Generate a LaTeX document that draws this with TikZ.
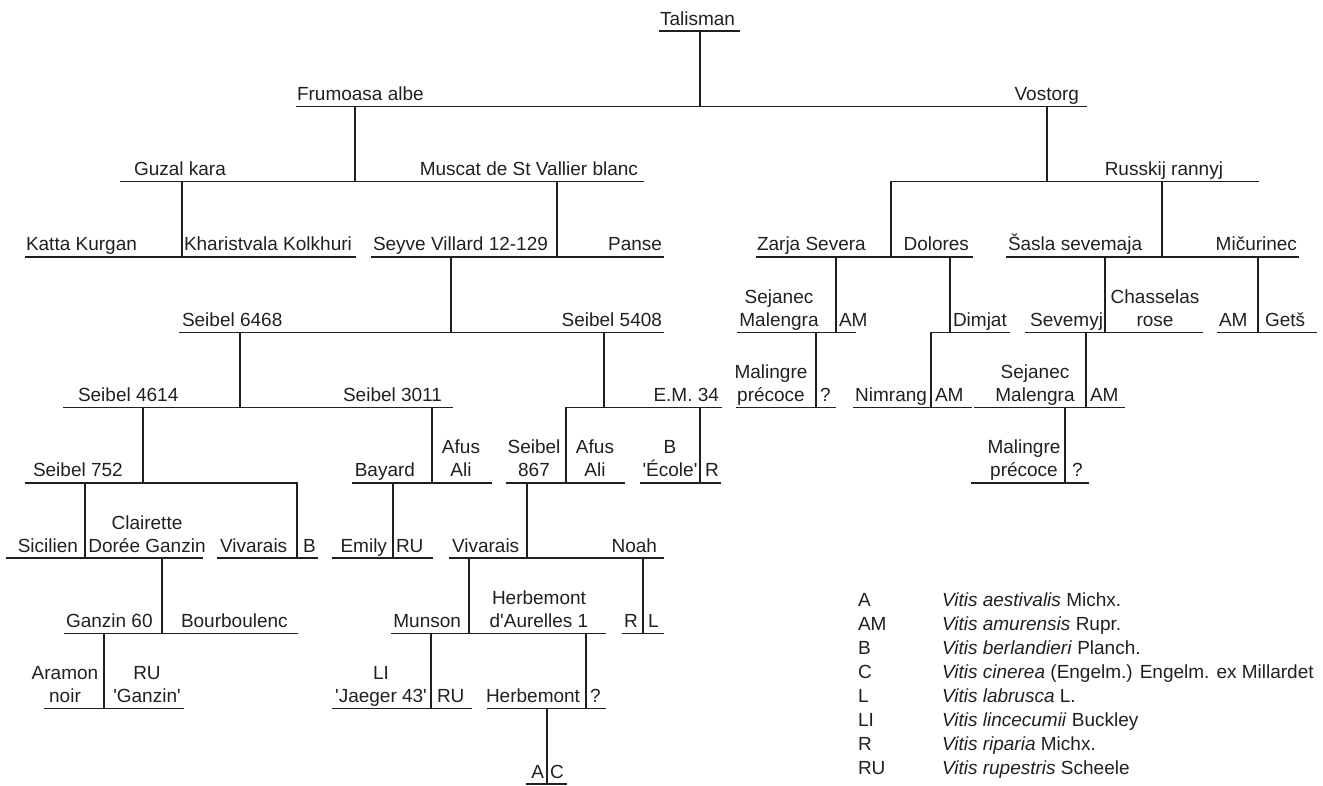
\documentclass[tikz,border=0pt]{standalone}
\usepackage{fontspec}
\setmainfont{Liberation Sans}
\definecolor{ink}{HTML}{231F20}
\newcommand\pedfont{\fontsize{19}{23}\selectfont}
\newcommand\twoline[2]{\begin{tabular}[b]{@{}c@{}}#1\\#2\end{tabular}}
\newcommand\sq{\textquotesingle}
\begin{document}
\begin{tikzpicture}[x=1pt,y=-1pt,
  every node/.style={font=\pedfont, text=ink, inner sep=0pt, outer sep=0pt},
  wire/.style={draw=ink, line width=1.4pt, line cap=rect},
  bw/.style={anchor=base west},
  be/.style={anchor=base east},
  bc/.style={anchor=base}]
\useasboundingbox (0,0) rectangle (1323,785);

% generation levels (y of the underlines): 31, 106.3, 181.6, ... step 75.3
% ---- horizontal underlines ----
\draw[wire]
 (660,31)--(739,31)
 (297,106.3)--(1086,106.3)
 (121,181.6)--(643,181.6)
 (891,181.6)--(1258,181.6)
 (26,256.9)--(355,256.9)
 (372,256.9)--(663,256.9)
 (757,256.9)--(972,256.9)
 (1007,256.9)--(1298,256.9)
 (180,332.2)--(663,332.2)
 (738,332.2)--(855,332.2)
 (931,332.2)--(1009,332.2)
 (1026,332.2)--(1202,332.2)
 (1218,332.2)--(1316,332.2)
 (64,407.5)--(452,407.5)
 (566,407.5)--(721,407.5)
 (737,407.5)--(835,407.5)
 (854,407.5)--(971,407.5)
 (975,407.5)--(1124,407.5)
 (26,482.8)--(297,482.8)
 (353,482.8)--(491,482.8)
 (507,482.8)--(624,482.8)
 (641,482.8)--(720,482.8)
 (972,482.8)--(1088,482.8)
 (7,558.1)--(202,558.1)
 (218,558.1)--(317,558.1)
 (333,558.1)--(432,558.1)
 (450,558.1)--(663,558.1)
 (65,633.4)--(297,633.4)
 (392,633.4)--(605,633.4)
 (623,633.4)--(663,633.4)
 (45,708.7)--(183,708.7)
 (333,708.7)--(471,708.7)
 (488,708.7)--(605,708.7)
 (527,784)--(566,784);

% ---- vertical descent lines ----
\draw[wire]
 (700,31)--(700,106.3)
 (355,106.3)--(355,181.6)
 (1047,106.3)--(1047,181.6)
 (182,181.6)--(182,256.9)
 (557,181.6)--(557,256.9)
 (891,181.6)--(891,256.9)
 (1162,181.6)--(1162,256.9)
 (451,256.9)--(451,332.2)
 (836,256.9)--(836,332.2)
 (950,256.9)--(950,332.2)
 (1105,256.9)--(1105,332.2)
 (1258,256.9)--(1258,332.2)
 (240,332.2)--(240,407.5)
 (604,332.2)--(604,407.5)
 (816,332.2)--(816,407.5)
 (931,332.2)--(931,407.5)
 (1086,332.2)--(1086,407.5)
 (143,407.5)--(143,482.8)
 (432,407.5)--(432,482.8)
 (566,407.5)--(566,482.8)
 (700,407.5)--(700,482.8)
 (1065,407.5)--(1065,482.8)
 (85,482.8)--(85,558.1)
 (297,482.8)--(297,558.1)
 (393,482.8)--(393,558.1)
 (527,482.8)--(527,558.1)
 (162,558.1)--(162,633.4)
 (469,558.1)--(469,633.4)
 (643,558.1)--(643,633.4)
 (104,633.4)--(104,708.7)
 (431,633.4)--(431,708.7)
 (586,633.4)--(586,708.7)
 (547,708.7)--(547,784);

% ---- cultivar and species labels ----
\node[bw] (talisman) at (660,25) {Talisman};

\node[bw] (frumoasa) at (297,100.3) {Frumoasa albe};
\node[be] (vostorg) at (1079,100.3) {Vostorg};

\node[bw] (guzal) at (134,175.6) {Guzal kara};
\node[be] (muscat) at (638,175.6) {Muscat de St Vallier blanc};
\node[be] (russkij) at (1223,175.6) {Russkij rannyj};

\node[bw] (katta) at (26,250.9) {Katta Kurgan};
\node[bw] (kharist) at (184,250.9) {Kharistvala Kolkhuri};
\node[bw] (seyve) at (373,250.9) {Seyve Villard 12-129};
\node[be] (panse) at (662,250.9) {Panse};
\node[bw] (zarja) at (757,250.9) {Zarja Severa};
\node[be] (dolores) at (969,250.9) {Dolores};
\node[bw] (sasla) at (1008,250.9) {Šasla sevemaja};
\node[be] (micur) at (1297,250.9) {Mičurinec};

\node[bw] (s6468) at (182,326.2) {Seibel 6468};
\node[be] (s5408) at (662,326.2) {Seibel 5408};
\node[bc] (sejanecA) at (779,326.2) {\twoline{Sejanec}{Malengra}};
\node[bw] (amA) at (839,326.2) {AM};
\node[bw] (dimjat) at (953,326.2) {Dimjat};
\node[be] (sevemyj) at (1103,326.2) {Sevemyj};
\node[bc] (chasselas) at (1155,326.2) {\twoline{Chasselas}{rose}};
\node[bw] (amB) at (1219,326.2) {AM};
\node[bw] (gets) at (1265,326.2) {Getš};

\node[bw] (s4614) at (78,401.5) {Seibel 4614};
\node[be] (s3011) at (442,401.5) {Seibel 3011};
\node[be] (em34) at (719,401.5) {E.M. 34};
\node[bc] (malingreA) at (771,401.5) {\twoline{Malingre}{précoce}};
\node[bw] (qA) at (820,401.5) {?};
\node[be] (nimrang) at (927,401.5) {Nimrang};
\node[bw] (amC) at (935,401.5) {AM};
\node[bc] (sejanecB) at (1035,401.5) {\twoline{Sejanec}{Malengra}};
\node[bw] (amD) at (1090,401.5) {AM};

\node[bw] (s752) at (33,476.8) {Seibel 752};
\node[be] (bayard) at (415,476.8) {Bayard};
\node[bc] (afusA) at (461,476.8) {\twoline{Afus}{Ali}};
\node[bc] (s867) at (534,476.8) {\twoline{Seibel}{867}};
\node[bc] (afusB) at (595,476.8) {\twoline{Afus}{Ali}};
\node[bc] (ecole) at (670,476.8) {\twoline{B}{\sq École\sq}};
\node[bw] (rA) at (705,476.8) {R};
\node[bc] (malingreB) at (1024,476.8) {\twoline{Malingre}{précoce}};
\node[bw] (qB) at (1072,476.8) {?};

\node[be] (sicilien) at (78,552.1) {Sicilien};
\node[bc] (clairette) at (147,552.1) {\twoline{Clairette}{Dorée Ganzin}};
\node[bw] (vivaraisA) at (220,552.1) {Vivarais};
\node[bw] (bA) at (303,552.1) {B};
\node[be] (emily) at (387,552.1) {Emily};
\node[bw] (ruA) at (396,552.1) {RU};
\node[bw] (vivaraisB) at (452,552.1) {Vivarais};
\node[be] (noah) at (657,552.1) {Noah};

\node[bw] (ganzin60) at (66,627.4) {Ganzin 60};
\node[bw] (bourb) at (181,627.4) {Bourboulenc};
\node[be] (munson) at (461,627.4) {Munson};
\node[bc] (herbA) at (539,627.4) {\twoline{Herbemont}{d\sq Aurelles 1}};
\node[bw] (rB) at (624,627.4) {R};
\node[bw] (lA) at (648,627.4) {L};

\node[bc] (aramon) at (65,702.7) {\twoline{Aramon}{noir}};
\node[bc] (ruganzin) at (147,702.7) {\twoline{RU}{\sq Ganzin\sq}};
\node[bc] (jaeger) at (381,702.7) {\twoline{LI}{\sq Jaeger 43\sq}};
\node[bw] (ruB) at (437,702.7) {RU};
\node[be] (herbB) at (580,702.7) {Herbemont};
\node[bw] (qC) at (590,702.7) {?};

\node[be] (aA) at (544,778) {A};
\node[bw] (cA) at (550,778) {C};

% ---- key to species abbreviations ----
\foreach \ab/\sp [count=\i from 0] in {
  A/{\textit{Vitis aestivalis} Michx.},
  AM/{\textit{Vitis amurensis} Rupr.},
  B/{\textit{Vitis berlandieri} Planch.},
  C/{\textit{Vitis cinerea} (Engelm.) Engelm. ex Millardet},
  L/{\textit{Vitis labrusca} L.},
  LI/{\textit{Vitis lincecumii} Buckley},
  R/{\textit{Vitis riparia} Michx.},
  RU/{\textit{Vitis rupestris} Scheele}} {
  \node[bw] (keyab\i) at (858,606+24*\i) {\ab};
  \node[bw] (keysp\i) at (942,606+24*\i) {\sp};
}
\end{tikzpicture}
\end{document}
